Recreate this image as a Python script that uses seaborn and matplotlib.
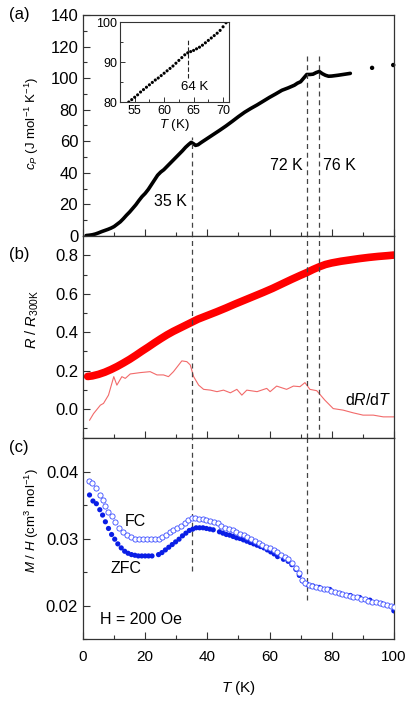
import numpy as np
import pandas as pd
import matplotlib
matplotlib.use("Agg")
import matplotlib.pyplot as plt
import seaborn as sns
from matplotlib.ticker import MultipleLocator

# ---------------- data ----------------
# (a) specific heat
cp_T = [1, 2, 3, 4, 5, 6, 7, 8, 9, 10, 11, 12, 13, 14, 15, 16, 17, 18, 19, 20,
        21, 22, 23, 24, 25, 26, 27, 28, 29, 30, 31, 32, 33, 34, 34.8, 35.5, 36.2,
        37, 38, 39, 40, 42, 44, 46, 48, 50, 52, 54, 56, 58, 60, 62, 64, 66, 68,
        69, 70, 71, 72, 73, 74, 75, 76, 77, 78, 79, 80, 82, 84, 86]
cp_val = [0.3, 0.5, 0.8, 1.3, 2.0, 2.8, 3.5, 4.2, 5.0, 6.0, 7.5, 9.0, 11.0, 13.2,
          15.2, 17.5, 19.8, 22.5, 25.0, 27.0, 29.5, 32.5, 35.5, 38.5, 40.5, 42.0,
          44.0, 46.0, 48.0, 50.0, 52.0, 54.0, 56.2, 58.0, 59.3, 58.5, 57.4, 57.8,
          59.2, 60.5, 61.8, 64.4, 67.0, 69.7, 72.6, 75.6, 78.4, 80.8, 83.0, 85.4,
          87.8, 90.0, 92.3, 93.8, 95.5, 96.8, 97.7, 100.0, 102.3, 102.3, 102.5,
          103.5, 104.2, 102.8, 101.8, 101.2, 101.3, 101.8, 102.4, 103.0]
cp_iso_T = [93, 99.8]
cp_iso_val = [106.5, 108.3]

# inset
ins_T = [54.0, 54.5, 55.0, 55.5, 56.0, 56.5, 57.0, 57.5, 58.0, 58.5, 59.0, 59.5,
         60.0, 60.5, 61.0, 61.5, 62.0, 62.5, 63.0, 63.5, 64.0, 64.5, 65.0, 65.5,
         66.0, 66.5, 67.0, 67.5, 68.0, 68.5, 69.0, 69.5, 70.0, 70.5]
ins_cp = [80.0, 80.6, 81.2, 81.8, 82.5, 83.1, 83.7, 84.3, 84.9, 85.5, 86.0, 86.6,
          87.2, 87.8, 88.4, 89.0, 89.7, 90.4, 91.1, 91.8, 92.3, 92.6, 92.9, 93.3,
          93.7, 94.2, 94.8, 95.4, 96.0, 96.6, 97.2, 97.9, 98.8, 99.8]

# (b) resistance
r_T = [1.5, 3, 5, 7, 9, 11, 13, 15, 17, 19, 21, 23, 25, 27, 29, 31, 33, 35, 37,
       40, 43, 46, 49, 52, 55, 58, 61, 64, 67, 70, 72, 74, 76, 78, 80, 83, 86,
       89, 92, 95, 98, 100]
r_val = [0.170, 0.173, 0.181, 0.192, 0.206, 0.222, 0.240, 0.259, 0.280, 0.302,
         0.323, 0.345, 0.366, 0.386, 0.404, 0.420, 0.436, 0.452, 0.468, 0.487,
         0.506, 0.526, 0.547, 0.567, 0.587, 0.607, 0.628, 0.651, 0.674, 0.696,
         0.710, 0.726, 0.740, 0.752, 0.760, 0.769, 0.776, 0.783, 0.789, 0.794,
         0.798, 0.801]
dr_T = [2.1, 3.4, 5.6, 6.6, 8.2, 9.9, 10.9, 12.5, 13.6, 15.2, 18.4, 21.6, 23.8,
        25.9, 27.5, 29.1, 31.8, 33.4, 34.5, 35.6, 37.2, 38.8, 41.0, 43.1, 45.2,
        47.4, 49.5, 51.1, 52.7, 56.0, 59.1, 60.2, 62.3, 65.5, 67.7, 69.8, 71.4,
        73.0, 75.2, 77.8, 80.5, 83.7, 86.9, 90.1, 93.4, 96.6, 100.0]
dr_val = [-0.058, -0.023, 0.021, 0.030, 0.073, 0.169, 0.125, 0.169, 0.160, 0.183,
          0.190, 0.195, 0.178, 0.178, 0.169, 0.195, 0.251, 0.247, 0.230, 0.169,
          0.125, 0.103, 0.099, 0.091, 0.099, 0.085, 0.103, 0.073, 0.099, 0.091,
          0.108, 0.091, 0.120, 0.103, 0.120, 0.117, 0.138, 0.103, 0.096, 0.047,
          0.003, -0.005, -0.019, -0.031, -0.031, -0.040, -0.040]

# (c) magnetisation
fc_T = [1.8, 3.0, 4.2, 5.4, 6.3, 7.2, 8.2, 9.3, 10.4, 11.5, 12.8, 14.0, 15.3, 16.6,
        17.9, 19.2, 20.5, 21.8, 23.1, 24.3, 25.5, 26.7, 27.9, 29.1, 30.3, 31.5,
        32.7, 33.9, 35.0, 36.1, 37.3, 38.5, 39.7, 40.9, 42.1, 43.3, 44.5, 45.7,
        46.9, 48.1, 49.3, 50.5, 51.7, 52.9, 54.1, 55.3, 56.5, 57.7, 58.9, 60.1,
        61.3, 62.5, 63.7, 64.9, 66.1, 67.3, 68.5, 69.5, 70.4, 71.4, 72.6, 73.8,
        75.0, 76.2, 77.4, 78.6, 79.8, 81.0, 82.2, 83.4, 84.6, 85.8, 87.0, 88.2,
        89.4, 90.6, 91.8, 93.0, 94.2, 95.4, 96.6, 97.8, 99.0, 100.0]
fc_val = [.03865, .0383, .0376, .0365, .0357, .0348, .0340, .0333, .0325, .0316,
          .0310, .0306, .0302, .0300, .0299, .0299, .0299, .0299, .0299, .0300,
          .0303, .0306, .0309, .0313, .0316, .0319, .0323, .0327, .0331, .0330,
          .0329, .0329, .0328, .0326, .0324, .0323, .0319, .0316, .0314, .0312,
          .0310, .0307, .0305, .0302, .0300, .0297, .0294, .0291, .0288, .0286,
          .0283, .0280, .0276, .0272, .0269, .0263, .0256, .0248, .0238, .0233,
          .0231, .0229, .0228, .0226, .0225, .0224, .0222, .0220, .0218, .0217,
          .0215, .0214, .0213, .0212, .0210, .0209, .0207, .0206, .0205, .0204,
          .0203, .0201, .0200, .0198]
zfc_T = [2.1, 3.2, 4.3, 5.4, 6.3, 7.2, 8.2, 9.2, 10.2, 11.2, 12.3, 13.4, 14.5,
         15.6, 16.7, 17.8, 18.9, 20.0, 21.1, 22.2, 24.3, 25.4, 26.5, 27.6, 28.7,
         29.8, 30.9, 32.0, 33.1, 34.2, 35.3, 36.4, 37.5, 38.6, 39.7, 40.8, 41.9,
         43.9, 45.0, 46.1, 47.2, 48.3, 49.4, 50.5, 51.6, 52.7, 53.8, 54.9, 56.0,
         57.1, 58.2, 59.3, 60.4, 61.5, 62.6, 64.5, 66.0, 67.2, 68.5, 69.6, 70.6,
         72.0, 74.0, 76.0, 79.4, 82.6, 86.0, 89.0, 92.3, 96.0, 100.0]
zfc_val = [.0365, .0356, .0352, .0343, .0335, .0325, .0315, .0306, .0299, .0292,
           .0286, .0281, .0278, .0276, .0275, .0274, .0274, .0274, .0274, .0274,
           .0276, .0279, .0283, .0287, .0291, .0295, .0299, .0304, .0308, .0312,
           .0314, .0316, .0316, .0316, .0315, .0314, .0313, .0310, .0308, .0306,
           .0305, .0303, .0301, .0300, .0298, .0296, .0294, .0292, .0290, .0288,
           .0286, .0283, .0280, .0277, .0273, .0269, .0266, .0261, .0254, .0245,
           .0237, .0232, .0229, .0227, .0224, .0218, .0215, .0212, .0208, .0203,
           .0192]

# ---------------- style ----------------
sns.set_style("ticks")
plt.rcParams['font.family'] = ['Liberation Sans', 'DejaVu Sans']
plt.rcParams['mathtext.fontset'] = 'custom'
plt.rcParams['mathtext.rm'] = 'Liberation Sans'
plt.rcParams['mathtext.it'] = 'Liberation Sans:italic'
plt.rcParams['xtick.direction'] = 'in'
plt.rcParams['ytick.direction'] = 'in'
for k in ('text.color', 'axes.labelcolor', 'xtick.labelcolor', 'ytick.labelcolor'):
    plt.rcParams[k] = 'black'
plt.rcParams['xtick.color'] = '#333333'
plt.rcParams['ytick.color'] = '#333333'
plt.rcParams['font.size'] = 10

fig = plt.figure(figsize=(4.15, 7.12), dpi=100)
L, W = 0.2, 0.749
ax1 = fig.add_axes([L, 0.6685, W, 0.3105])
ax2 = fig.add_axes([L, 0.3848, W, 0.2837])
ax3 = fig.add_axes([L, 0.1025, W, 0.2823])

dash = dict(color='#444444', lw=0.9, ls=(0, (4, 3)))
TXT = 11.5


def style_axis(ax):
    ax.set_xlim(0, 100)
    ax.xaxis.set_major_locator(MultipleLocator(20))
    ax.xaxis.set_minor_locator(MultipleLocator(10))
    ax.tick_params(which='major', length=5, width=0.8)
    ax.tick_params(axis='x', labelsize=11, pad=8)
    ax.tick_params(axis='y', labelsize=12)
    ax.tick_params(which='minor', length=3, width=0.8)
    for s in ax.spines.values():
        s.set_linewidth(0.9)
        s.set_color('#333333')


# (a)
sns.lineplot(x=cp_T, y=cp_val, ax=ax1, color='black', lw=2.6, sort=False)
sns.scatterplot(x=cp_iso_T, y=cp_iso_val, ax=ax1, color='black', s=10,
                edgecolor='none', clip_on=False)
style_axis(ax1)
ax1.set_ylim(0, 140)
ax1.yaxis.set_major_locator(MultipleLocator(20))
ax1.yaxis.set_minor_locator(MultipleLocator(10))
ax1.set_xticklabels([])
ax1.set_ylabel("$c_P$ (J mol$^{-1}$ K$^{-1}$)", fontsize=9.5)
ax1.yaxis.set_label_coords(-0.135, 0.51)
ax1.axvline(35, ymax=63 / 140, **dash)
ax1.axvline(72, ymax=114 / 140, **dash)
ax1.axvline(76, ymax=114 / 140, **dash)
ax1.text(28, 22, "35 K", ha='center', va='center', fontsize=TXT)
ax1.text(70.8, 44.5, "72 K", ha='right', va='center', fontsize=TXT)
ax1.text(77.2, 44.5, "76 K", ha='left', va='center', fontsize=TXT)

# inset
axi = fig.add_axes([0.289, 0.8567, 0.2627, 0.1124])
sns.scatterplot(x=ins_T, y=ins_cp, ax=axi, color='black', s=5, edgecolor='none')
axi.set_xlim(52.5, 71)
axi.set_ylim(80, 100)
axi.xaxis.set_major_locator(MultipleLocator(5))
axi.xaxis.set_minor_locator(MultipleLocator(2.5))
axi.yaxis.set_major_locator(MultipleLocator(10))
axi.yaxis.set_minor_locator(MultipleLocator(5))
axi.tick_params(which='major', length=3.5, width=0.7, labelsize=9, pad=2)
axi.tick_params(which='minor', length=2.5, width=0.7)
for s in axi.spines.values():
    s.set_linewidth(0.8)
    s.set_color('#333333')
axi.set_xlabel("$T$ (K)", fontsize=9.5, labelpad=0)
axi.axvline(64, ymin=0.3, ymax=0.785, color='#222222', lw=0.8, ls=(0, (4, 2)))
axi.text(62.8, 83.8, "64 K", ha='left', va='center', fontsize=9.5)

# (b)
sns.lineplot(x=r_T, y=r_val, ax=ax2, color='#ff0000', lw=5.5, sort=False,
             solid_capstyle='round')
sns.lineplot(x=dr_T, y=dr_val, ax=ax2, color='#f26a6a', lw=0.8, sort=False)
style_axis(ax2)
ax2.set_ylim(-0.15, 0.9)
ax2.yaxis.set_minor_locator(MultipleLocator(0.1))
ax2.set_yticks([0.0, 0.2, 0.4, 0.6, 0.8])
ax2.set_yticklabels(["0.0", "0.2", "0.4", "0.6", "0.8"])
ax2.set_xticklabels([])
ax2.set_ylabel("$R$ / $R_{\\rm 300K}$", fontsize=10.5)
ax2.yaxis.set_label_coords(-0.135, 0.585)
for t in (35, 72, 76):
    ax2.axvline(t, **dash)
ax2.text(84.3, 0.047, "d$R$/d$T$", ha='left', va='center', fontsize=TXT)

# (c)
sns.scatterplot(x=zfc_T, y=zfc_val, ax=ax3, color='#0a1ee6', s=14,
                edgecolor='none', zorder=3)
sns.scatterplot(x=fc_T, y=fc_val, ax=ax3, facecolor='white', s=14,
                edgecolor='#3a4cff', linewidth=0.6, zorder=4)
style_axis(ax3)
ax3.set_ylim(0.015, 0.045)
ax3.yaxis.set_minor_locator(MultipleLocator(0.005))
ax3.set_yticks([0.02, 0.03, 0.04])
ax3.set_yticklabels(["0.02", "0.03", "0.04"])
ax3.set_ylabel("$M$ / $H$ (cm$^3$ mol$^{-1}$)", fontsize=9.5)
ax3.yaxis.set_label_coords(-0.135, 0.59)
ax3.set_xlabel("$T$ (K)", fontsize=11, labelpad=11)
ax3.axvline(35, ymin=0.338, **dash)
ax3.axvline(72, ymin=0.195, **dash)
ax3.text(16.8, 0.0325, "FC", ha='center', va='center', fontsize=TXT)
ax3.text(13.9, 0.0255, "ZFC", ha='center', va='center', fontsize=TXT)
ax3.text(5.6, 0.0179, "H = 200 Oe", ha='left', va='center', fontsize=TXT)

fig.text(0.022, 0.979, "(a)", ha='left', va='center', fontsize=12)
fig.text(0.022, 0.642, "(b)", ha='left', va='center', fontsize=12)
fig.text(0.022, 0.372, "(c)", ha='left', va='center', fontsize=12)

fig.savefig("out.png", dpi=100)
